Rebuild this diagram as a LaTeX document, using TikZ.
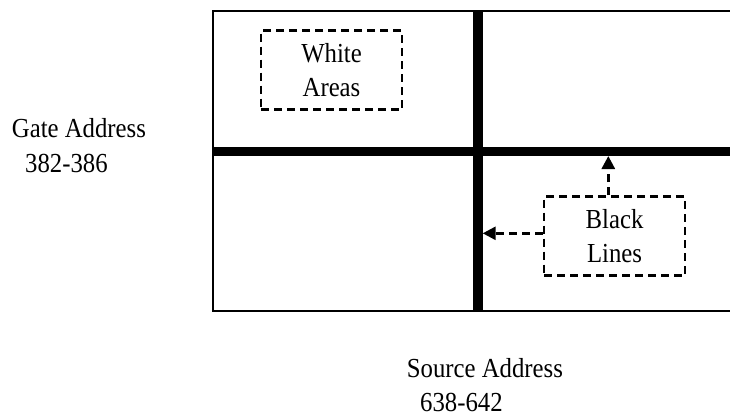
\documentclass[tikz,border=0pt]{standalone}
\usepackage{fontspec}
\setmainfont{Liberation Serif}[FakeStretch=0.9]
\usetikzlibrary{arrows.meta}
\begin{document}
\begin{tikzpicture}[x=1pt,y=-1pt,
  lbl/.style={inner sep=0pt,anchor=base west,font=\fontsize{27.5}{34}\selectfont},
  dbox/.style={draw,line width=2.8pt,dash pattern=on 8pt off 5pt,minimum width=141pt,minimum height=79pt,inner sep=0pt,align=center,font=\fontsize{27.5}{34}\selectfont},
  thick line/.style={line width=9.5pt},
  darrow/.style={line width=2.8pt,dash pattern=on 8pt off 5pt,-{Triangle[length=13pt,width=13pt]}}]
\useasboundingbox (0,0) rectangle (730,416);
% outer frame (open on the right)
\draw[line width=2.2pt] (740,10.7) -- (213,10.7) -- (213,310.7) -- (740,310.7);
% thick black lines
\draw[thick line] (213,151.3) -- (740,151.3);
\draw[thick line] (478,10) -- (478,311.5);
% boxes
\node[dbox] (wa) at (331.5,70) {White\\Areas};
\node[dbox] (bl) at (614.5,236) {Black\\Lines};
% arrow targets
\coordinate (tipU) at (608.3,156);
\coordinate (tipL) at (482.7,233.3);
\draw[darrow] (bl.north -| tipU) -- (tipU);
\draw[darrow] (bl.west |- tipL) -- (tipL);
% labels
\node[lbl] (g1) at (11.7,137.3) {Gate Address};
\node[lbl] (g2) at (25,172.7) {382-386};
\node[lbl] (s1) at (406.7,377.3) {Source Address};
\node[lbl] (s2) at (420,411.5) {638-642};
\end{tikzpicture}
\end{document}
